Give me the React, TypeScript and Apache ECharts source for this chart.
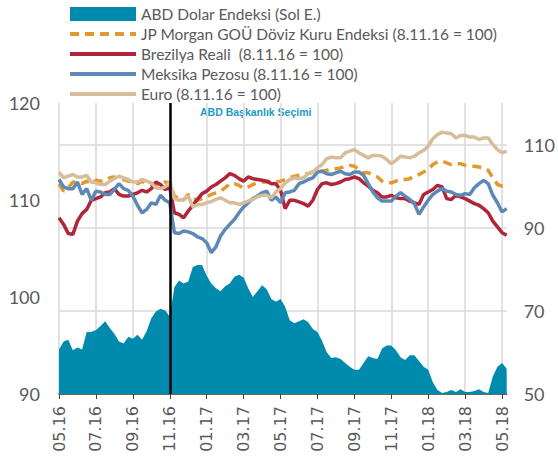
import React, { useEffect, useRef } from "react";
import * as echarts from "echarts";

// ---- data (4 points per month, from 01.05.2016) ----
const pointDays = [1, 8, 16, 23];
const pointCount = 98;
const dates: string[] = [];
for (let k = 0; k < pointCount; k++) {
  const m = Math.floor(k / 4);
  const year = 2016 + Math.floor((4 + m) / 12);
  const month = ((4 + m) % 12) + 1;
  const d = pointDays[k % 4];
  dates.push(`${year}-${String(month).padStart(2, "0")}-${String(d).padStart(2, "0")}`);
}

const seriesNames = [
  "ABD Dolar Endeksi (Sol E.)",
  "JP Morgan GOÜ Döviz Kuru Endeksi (8.11.16 = 100)",
  "Brezilya Reali  (8.11.16 = 100)",
  "Meksika Pezosu (8.11.16 = 100)",
  "Euro (8.11.16 = 100)",
];

const dollarIndex = [
  94.6, 95.4, 95.6, 94.5, 94.8, 94.6, 96.4, 96.4, 96.6, 97.0,
  97.5, 96.8, 96.2, 95.4, 95.2, 95.9, 95.7, 96.1, 95.6, 96.5,
  97.8, 98.5, 98.8, 98.6, 98.0, 101.0, 101.7, 101.4, 101.6, 103.1,
  103.3, 103.3, 102.2, 101.4, 100.9, 100.6, 101.1, 101.4, 102.1, 102.3,
  102.0, 100.9, 100.0, 100.6, 101.2, 100.8, 99.8, 99.5, 99.8, 99.0,
  97.6, 97.3, 97.5, 97.7, 97.4, 96.7, 96.4, 95.5, 94.3, 93.7,
  93.8, 93.6, 93.2, 92.8, 92.5, 92.5, 93.2, 93.9, 93.7, 93.6,
  94.7, 95.0, 95.0, 94.5, 93.8, 93.5, 94.0, 94.0, 93.4, 92.8,
  92.5, 91.2, 90.4, 90.1, 90.2, 90.4, 90.2, 90.5, 90.2, 90.2,
  90.3, 90.5, 90.2, 90.1, 91.8, 92.8, 93.2, 92.6,
];

const jpMorgan = [
  100.5, 98.8, 99.6, 101.0, 101.0, 100.6, 101.2, 100.6, 101.4, 101.2,
  101.4, 102.0, 102.2, 101.6, 101.6, 101.2, 101.0, 100.6, 101.2, 100.6,
  100.4, 100.6, 100.2, 101.0, 100.8, 97.6, 97.0, 96.6, 98.0, 97.0,
  96.6, 97.0, 97.4, 98.0, 98.4, 98.8, 99.6, 100.6, 100.6, 100.2,
  99.4, 99.8, 100.4, 100.8, 101.0, 101.0, 101.2, 101.0, 101.2, 101.6,
  102.0, 102.4, 102.6, 102.8, 103.0, 103.4, 103.4, 103.6, 103.8, 104.0,
  104.2, 104.4, 104.8, 105.0, 104.8, 104.0, 103.2, 103.2, 102.8, 102.2,
  101.2, 100.8, 100.8, 101.2, 101.6, 101.6, 101.8, 102.4, 102.8, 103.4,
  104.0, 105.2, 105.8, 106.0, 105.6, 105.2, 105.4, 105.4, 105.0, 104.8,
  104.8, 104.6, 104.4, 103.8, 102.0, 100.4, 100.0, 100.4,
];

const brazil = [
  92.4, 90.8, 88.6, 88.4, 91.6, 93.4, 94.4, 96.6, 97.0, 97.4,
  98.4, 98.6, 99.4, 98.0, 97.6, 97.6, 98.0, 98.4, 99.0, 98.6,
  99.4, 101.0, 100.4, 99.2, 99.6, 93.6, 93.2, 92.4, 94.0, 95.4,
  96.8, 98.2, 98.8, 99.8, 100.4, 101.2, 102.0, 103.0, 102.6, 101.8,
  101.2, 102.2, 101.8, 101.6, 101.4, 101.2, 100.6, 100.6, 99.0, 94.6,
  96.6, 96.6, 96.2, 95.8, 95.2, 96.6, 99.2, 100.6, 100.8, 100.4,
  100.6, 101.0, 101.6, 101.8, 102.2, 101.8, 100.8, 100.0, 99.0, 98.4,
  97.4, 97.4, 97.8, 97.2, 97.0, 97.0, 96.4, 96.0, 95.6, 98.0,
  98.6, 99.2, 100.2, 99.8, 97.0, 96.8, 97.8, 97.4, 97.0, 96.4,
  95.8, 95.4, 94.6, 93.6, 91.6, 90.2, 88.8, 88.2,
];

const mexico = [
  101.6, 99.8, 99.4, 99.4, 101.0, 98.0, 99.4, 96.6, 98.8, 98.6,
  98.0, 98.0, 99.2, 100.6, 99.4, 99.0, 97.6, 95.4, 93.6, 94.4,
  96.0, 95.6, 97.8, 96.6, 96.0, 88.8, 88.6, 89.2, 89.0, 88.6,
  87.8, 87.4, 86.4, 84.0, 85.4, 88.0, 89.6, 90.8, 92.0, 93.6,
  95.0, 96.0, 97.0, 97.6, 98.4, 98.8, 96.6, 97.4, 96.0, 98.4,
  98.6, 99.0, 100.6, 101.0, 101.6, 102.0, 103.4, 103.6, 103.0, 102.8,
  103.2, 103.6, 103.0, 102.8, 103.4, 103.4, 102.6, 100.6, 98.6, 97.2,
  96.4, 96.4, 96.4, 97.6, 98.4, 97.6, 96.8, 95.8, 93.2, 95.0,
  96.6, 98.0, 98.8, 99.4, 98.8, 98.6, 98.0, 97.8, 98.2, 98.0,
  99.6, 100.6, 101.4, 100.6, 97.8, 96.0, 93.8, 94.6,
];

const euro = [
  103.4, 102.0, 102.4, 102.8, 102.2, 102.2, 102.6, 101.0, 100.8, 100.4,
  100.4, 101.2, 101.8, 102.4, 102.0, 101.6, 101.0, 101.0, 101.6, 101.2,
  100.8, 99.6, 99.4, 99.8, 101.0, 97.0, 96.6, 96.8, 97.6, 95.0,
  95.6, 95.6, 96.0, 96.3, 96.8, 97.2, 96.6, 96.0, 96.0, 95.6,
  96.0, 96.4, 96.8, 97.4, 97.8, 97.8, 97.2, 98.6, 99.4, 100.8,
  101.6, 102.0, 101.8, 102.0, 103.0, 103.4, 104.4, 105.2, 106.6, 107.0,
  106.8, 106.8, 108.0, 108.4, 108.8, 108.0, 107.4, 106.8, 107.4, 107.4,
  107.2, 106.4, 105.4, 106.2, 107.2, 107.0, 106.8, 107.2, 108.0, 108.6,
  109.6, 111.4, 112.4, 113.0, 112.8, 112.6, 111.6, 112.2, 112.2, 111.8,
  111.8, 111.2, 111.6, 111.6, 110.0, 108.8, 108.0, 108.4,
];

const electionIndex = 24;
const electionLabel = "ABD Başkanlık Seçimi";

const colors = {
  dollar: "#008AAE",
  jpm: "#E3982E",
  brazil: "#B0253A",
  mexico: "#5D89B7",
  euro: "#D8BE98",
  text: "#595959",
  grid: "#D9D9D9",
};

const FONT = "Lato, 'Open Sans', sans-serif";

export default function App() {
  const ref = useRef<HTMLDivElement>(null);

  useEffect(() => {
    if (!ref.current) return;
    const chart = echarts.init(ref.current, null, { renderer: "svg" });
    const showEvery = (i: number) => i % 8 === 0;
    const lineSeries = (name: string, data: number[], color: string, dashed = false) => ({
      name,
      type: "line",
      yAxisIndex: 1,
      data,
      showSymbol: false,
      symbol: "none",
      lineStyle: { color, width: 3.5, type: dashed ? [9, 6] : "solid" },
      itemStyle: { color },
      emphasis: { disabled: true },
    });
    const legendLine = (name: string) => ({
      name,
      itemStyle: { opacity: 0 },
      lineStyle: { width: 4 },
    });

    chart.setOption({
      animation: false,
      textStyle: { fontFamily: FONT },
      grid: { left: 59, right: 49, top: 103, bottom: 66 },
      legend: {
        orient: "vertical",
        left: 63,
        top: 1,
        itemWidth: 66,
        itemHeight: 14,
        itemGap: 4,
        selectedMode: false,
        textStyle: { fontSize: 15.5, color: colors.text, fontFamily: FONT, lineHeight: 16 },
        data: [
          { name: seriesNames[0], icon: "rect" },
          legendLine(seriesNames[1]),
          legendLine(seriesNames[2]),
          legendLine(seriesNames[3]),
          legendLine(seriesNames[4]),
        ],
      },
      xAxis: {
        type: "category",
        data: dates,
        boundaryGap: false,
        axisLine: { lineStyle: { color: "#404040", width: 1.5 } },
        axisTick: { show: true, interval: showEvery, length: 5, lineStyle: { color: "#404040" } },
        axisLabel: {
          interval: showEvery,
          rotate: 90,
          margin: 12,
          fontSize: 16,
          color: colors.text,
          fontFamily: "'DejaVu Sans', sans-serif",
          formatter: (v: string) => `${v.slice(5, 7)}.${v.slice(2, 4)}`,
        },
        splitLine: { show: true, interval: showEvery, lineStyle: { color: colors.grid, width: 1.5 } },
      },
      yAxis: [
        {
          type: "value",
          position: "left",
          min: 90,
          max: 120,
          interval: 10,
          axisLine: { show: false },
          axisTick: { show: false },
          splitLine: { show: false },
          axisLabel: { fontSize: 18, color: colors.text, margin: 19, fontFamily: FONT },
        },
        {
          type: "value",
          position: "right",
          min: 50,
          max: 120,
          interval: 20,
          axisLine: { show: false },
          axisTick: { show: false },
          axisLabel: { fontSize: 18, color: colors.text, margin: 17, showMaxLabel: false, fontFamily: FONT },
          splitLine: {
            show: true,
            showMaxLine: false,
            lineStyle: {
              color: [colors.grid, colors.grid, colors.grid, colors.grid, "rgba(0,0,0,0)"],
              width: 1.5,
            },
          },
        },
      ],
      graphic: [
        {
          type: "text",
          left: 200,
          top: 106,
          style: {
            text: electionLabel,
            fill: "#1C9AC8",
            font: "bold 10.5px 'Liberation Sans', Arial, sans-serif",
          },
        },
      ],
      series: [
        {
          name: seriesNames[0],
          type: "line",
          yAxisIndex: 0,
          data: dollarIndex,
          showSymbol: false,
          symbol: "none",
          lineStyle: { width: 0, color: colors.dollar },
          itemStyle: { color: colors.dollar },
          areaStyle: { color: colors.dollar, opacity: 1 },
          emphasis: { disabled: true },
          markLine: {
            silent: true,
            symbol: "none",
            label: { show: false },
            lineStyle: { color: "#000", width: 2.5, type: "solid" },
            data: [{ xAxis: dates[electionIndex] }],
          },
        },
        lineSeries(seriesNames[1], jpMorgan, colors.jpm, true),
        lineSeries(seriesNames[2], brazil, colors.brazil),
        lineSeries(seriesNames[3], mexico, colors.mexico),
        lineSeries(seriesNames[4], euro, colors.euro),
      ],
    });
    return () => chart.dispose();
  }, []);

  return (
    <div
      ref={ref}
      style={{ position: "fixed", left: 0, top: 0, width: 558, height: 460, background: "#fff" }}
    />
  );
}
